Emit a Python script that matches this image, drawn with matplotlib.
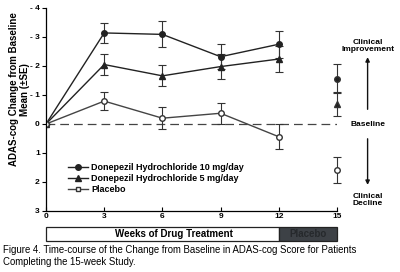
import matplotlib.pyplot as plt
from matplotlib.lines import Line2D
from matplotlib.patches import Rectangle, FancyArrowPatch

weeks = [0, 3, 6, 9, 12]
d10 = [0, -3.14, -3.09, -2.32, -2.75]
d10_se = [0, 0.35, 0.45, 0.44, 0.47]
d5 = [0, -2.05, -1.66, -1.98, -2.24]
d5_se = [0, 0.36, 0.36, 0.43, 0.44]
pla = [0, -0.79, -0.20, -0.37, 0.44]
pla_se = [0, 0.30, 0.37, 0.36, 0.43]

wk15 = 15
d10_15, d10_15_se = -1.56, 0.50
d5_15, d5_15_se = -0.68, 0.42
pla_15, pla_15_se = 1.59, 0.46

yticks = [-4, -3, -2, -1, 0, 1, 2, 3]
ylabels = ['- 4', '- 3', '- 2', '- 1', '0', '1', '2', '3']
xticks = [0, 3, 6, 9, 12, 15]

plt.rcParams['font.family'] = ['Liberation Sans', 'DejaVu Sans']
fig = plt.figure(figsize=(4, 2.72), dpi=100)
ax = fig.add_axes([0.115, 0.2243, 0.7275, 0.7463])

lw = 1.0
ek = dict(ecolor='#333333', elinewidth=0.8, capsize=3, capthick=0.8)
ax.errorbar(weeks, d10, yerr=d10_se, color='#222222', marker='o', ms=4, lw=lw, **ek)
ax.errorbar(weeks, d5, yerr=d5_se, color='#222222', marker='^', ms=4, lw=lw, **ek)
ax.errorbar(weeks, pla, yerr=pla_se, color='#444444', marker='o', ms=4, lw=lw,
            mfc='white', mec='#333333', **ek)
for y, se, m, face in [(d10_15, d10_15_se, 'o', '#222222'), (d5_15, d5_15_se, '^', '#222222'),
                       (pla_15, pla_15_se, 'o', 'white')]:
    c = ax.errorbar([wk15], [y], yerr=[se], color='#222222', marker=m, ms=4, ls='none',
                    mfc=face, mec='#333333', **ek)
    for a in c.get_children():
        a.set_clip_on(False)

ax.axhline(0, color='#444444', lw=0.9, ls=(0, (7, 4)), zorder=0)

ax.set_xlim(0, 15)
ax.set_ylim(3, -4)
ax.set_xticks(xticks)
ax.set_xticklabels([str(x) for x in xticks], fontsize=6, fontweight='bold')
ax.set_yticks(yticks)
ax.set_yticklabels(ylabels, fontsize=6, fontweight='bold')
ax.tick_params(axis='both', length=3, width=0.8, pad=1.5)
ax.tick_params(axis='x', direction='in')
for s in ['top', 'right']:
    ax.spines[s].set_visible(False)
for s in ['left', 'bottom']:
    ax.spines[s].set_linewidth(0.9)

ax.set_ylabel('ADAS-cog Change from Baseline\nMean (\u00b1SE)', fontsize=7, fontweight='bold',
              linespacing=1.1)
ax.yaxis.set_label_coords(-0.055, 0.6)

handles = [
    Line2D([], [], color='#222222', marker='o', ms=4, lw=lw),
    Line2D([], [], color='#222222', marker='^', ms=4, lw=lw),
    Line2D([], [], color='#444444', marker='s', ms=3.5, lw=lw, mfc='white', mec='#333333'),
]
labels = ['Donepezil Hydrochloride 10 mg/day', 'Donepezil Hydrochloride 5 mg/day', 'Placebo']
leg = ax.legend(handles, labels, loc='lower left', bbox_to_anchor=(0.06, 0.06), frameon=False,
                fontsize=6.5, handlelength=2.2, handletextpad=0.4, labelspacing=0.25, borderpad=0)
for t in leg.get_texts():
    t.set_fontweight('bold')

# right-hand annotations
fig.text(0.92, 0.83, 'Clinical\nImprovement', ha='center', va='center', fontsize=6,
         fontweight='bold', linespacing=1.0)
fig.text(0.92, 0.544, 'Baseline', ha='center', va='center', fontsize=6, fontweight='bold')
fig.text(0.92, 0.265, 'Clinical\nDecline', ha='center', va='center', fontsize=6,
         fontweight='bold', linespacing=1.0)
fig.patches.append(FancyArrowPatch((0.919, 0.588), (0.919, 0.8), transform=fig.transFigure,
                                   arrowstyle='-|>', mutation_scale=6, lw=1.0, color='#111111'))
fig.patches.append(FancyArrowPatch((0.919, 0.5), (0.919, 0.31), transform=fig.transFigure,
                                   arrowstyle='-|>', mutation_scale=6, lw=1.0, color='#111111'))

# treatment bar
x0, x12, x15 = 0.115, 0.115 + 0.7275 * 12 / 15, 0.8425
yb, hb = 1 - 241 / 272, 14 / 272
fig.patches.append(Rectangle((x0, yb), x12 - x0, hb, transform=fig.transFigure,
                             facecolor='white', edgecolor='#222222', lw=0.9))
fig.patches.append(Rectangle((x12, yb), x15 - x12, hb, transform=fig.transFigure,
                             facecolor='#3d4146', edgecolor='#222222', lw=0.9))
fig.text((x0 + x12) / 2 + 0.03, yb + hb / 2, 'Weeks of Drug Treatment', ha='center', va='center',
         fontsize=7, fontweight='bold')
fig.text((x12 + x15) / 2, yb + hb / 2, 'Placebo', ha='center', va='center',
         fontsize=7, fontweight='bold', color='#26292c')

fig.text(0.008, 1 - 256 / 272, 'Figure 4. Time-course of the Change from Baseline in ADAS-cog Score for Patients\nCompleting the 15-week Study.',
         ha='left', va='center', fontsize=6.9, linespacing=1.15)

fig.savefig('out.png', dpi=100)
